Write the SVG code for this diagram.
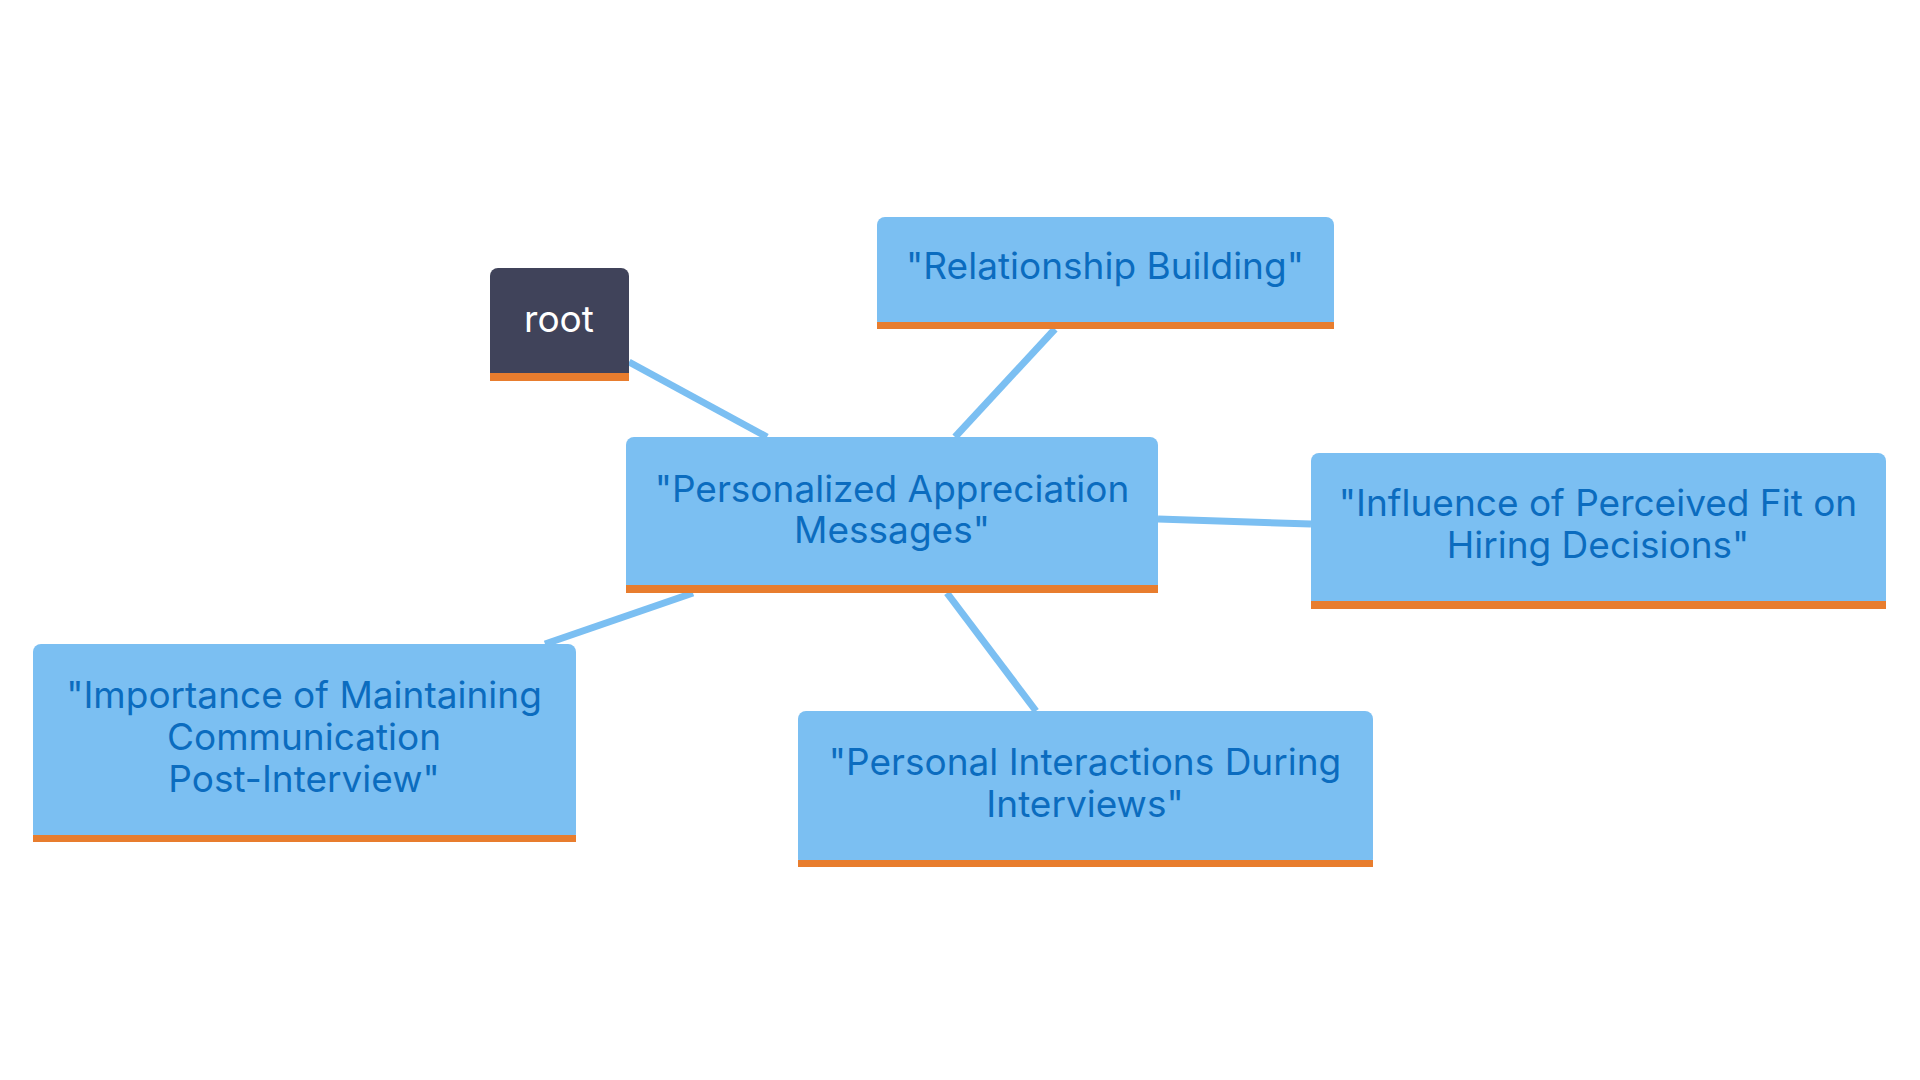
<svg xmlns="http://www.w3.org/2000/svg" width="1920" height="1080" viewBox="0 0 1920 1080">
<style>
.b{fill:#7bbff2}.o{fill:#e87d2e}
.t{font-family:Inter,"Open Sans",sans-serif;font-size:37px;fill:#0b6cbf;text-anchor:middle}
.c{stroke:#7bbff2;stroke-width:7;fill:none}
</style>
<rect width="1920" height="1080" fill="#fff"/>
<g id="connectors">
<line class="c" x1="629" y1="362" x2="767" y2="437"/>
<line class="c" x1="1055" y1="329" x2="955" y2="437"/>
<line class="c" x1="1158" y1="519" x2="1311" y2="524"/>
<line class="c" x1="693" y1="593" x2="545" y2="644"/>
<line class="c" x1="947" y1="593" x2="1036" y2="711"/>
</g>
<g id="root"><rect x="490" y="268" width="139" height="113" rx="8" fill="#40435a"/><rect class="o" x="490" y="373" width="139" height="8"/><text x="559" y="332" style="font-family:Inter,'Open Sans',sans-serif;font-size:37px;fill:#fff;text-anchor:middle">root</text></g>
<g id="rel"><rect class="b" x="877" y="217" width="457" height="112" rx="8"/><rect class="o" x="877" y="322" width="457" height="7"/><text class="t" x="1105" y="279">"Relationship Building"</text></g>
<g id="pers"><rect class="b" x="626" y="437" width="532" height="156" rx="8"/><rect class="o" x="626" y="585" width="532" height="8"/><text class="t" x="892" y="502">"Personalized Appreciation</text><text class="t" x="892" y="543">Messages"</text></g>
<g id="infl"><rect class="b" x="1311" y="453" width="575" height="156" rx="8"/><rect class="o" x="1311" y="601" width="575" height="8"/><text class="t" x="1598" y="516">"Influence of Perceived Fit on</text><text class="t" x="1598" y="558">Hiring Decisions"</text></g>
<g id="imp"><rect class="b" x="33" y="644" width="543" height="198" rx="8"/><rect class="o" x="33" y="835" width="543" height="7"/><text class="t" x="304" y="708">"Importance of Maintaining</text><text class="t" x="304" y="750">Communication</text><text class="t" x="304" y="792">Post-Interview"</text></g>
<g id="inter"><rect class="b" x="798" y="711" width="575" height="156" rx="8"/><rect class="o" x="798" y="860" width="575" height="7"/><text class="t" x="1085" y="775">"Personal Interactions During</text><text class="t" x="1085" y="817">Interviews"</text></g>
</svg>
